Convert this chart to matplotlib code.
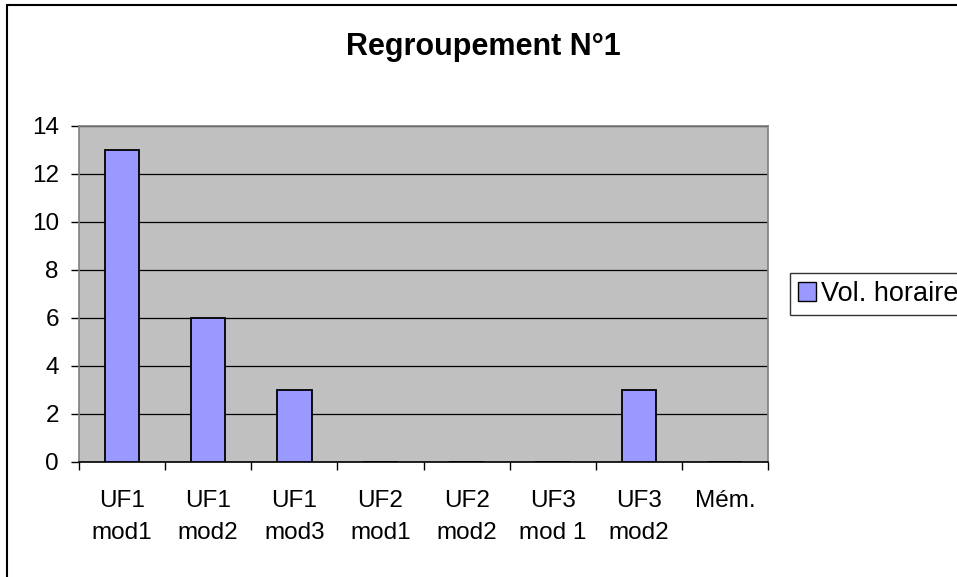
import numpy as np
import matplotlib
matplotlib.use("Agg")
import matplotlib.pyplot as plt
from matplotlib.patches import Rectangle

plt.rcParams['font.family'] = ['Liberation Sans', 'DejaVu Sans']

# data
categories = ["UF1\nmod1", "UF1\nmod2", "UF1\nmod3", "UF2\nmod1",
              "UF2\nmod2", "UF3\nmod 1", "UF3\nmod2", "Mém."]
vol_horaire = [13, 6, 3, 0, 0, 0, 3, 0]
y_ticks = [0, 2, 4, 6, 8, 10, 12, 14]

fig = plt.figure(figsize=(9.57, 5.77), dpi=100)
ax = fig.add_axes([79/957, 1-462/577, (768-79)/957, (462-126)/577])

x = np.arange(len(categories))
ax.bar(x, vol_horaire, width=0.4, color="#9999FF", edgecolor="black",
       linewidth=1.3, label="Vol. horaire", zorder=3)

ax.set_facecolor("#C0C0C0")
ax.set_xlim(-0.5, len(categories) - 0.5)
ax.set_ylim(0, 14)
ax.set_yticks(y_ticks)
ax.yaxis.grid(True, color="black", linewidth=0.9, zorder=1)
ax.set_axisbelow(True)

# labels centred, ticks on the category boundaries
ax.set_xticks(x)
ax.set_xticklabels(categories, fontsize=17.5, linespacing=1.6)
ax.set_xticks(np.arange(-0.5, len(categories)), minor=True)
ax.tick_params(axis="x", which="major", length=0, pad=20)
ax.tick_params(axis="x", which="minor", length=6, width=1, direction="out")
ax.tick_params(axis="y", length=6, width=1, direction="out", labelsize=17.5, pad=8.5)

for s in ["top", "right", "left"]:
    ax.spines[s].set_color("#808080")
    ax.spines[s].set_linewidth(1.2)
ax.spines["bottom"].set_color("black")
ax.spines["bottom"].set_linewidth(1.2)

fig.text(483/957, 1-47/577, "Regroupement N°1", ha="center", va="center",
         fontsize=22, fontweight="bold")

leg = ax.legend(loc="center left", bbox_to_anchor=(790/957, 1-294/577),
                bbox_transform=fig.transFigure, fontsize=19.5, frameon=True,
                fancybox=False, edgecolor="black", handlelength=0.65,
                handleheight=0.65, handletextpad=0.2, borderpad=0.3,
                borderaxespad=0)
leg.get_frame().set_linewidth(1.0)
for h in leg.legend_handles:
    h.set_linewidth(1.0)

# outer chart border (cropped on right and bottom)
fig.patches.append(Rectangle((7.5/957, -0.1), 1.2, 1.1 - 4.5/577,
                             transform=fig.transFigure, fill=False,
                             edgecolor="black", linewidth=1.5))

fig.savefig("out.png", dpi=100)
